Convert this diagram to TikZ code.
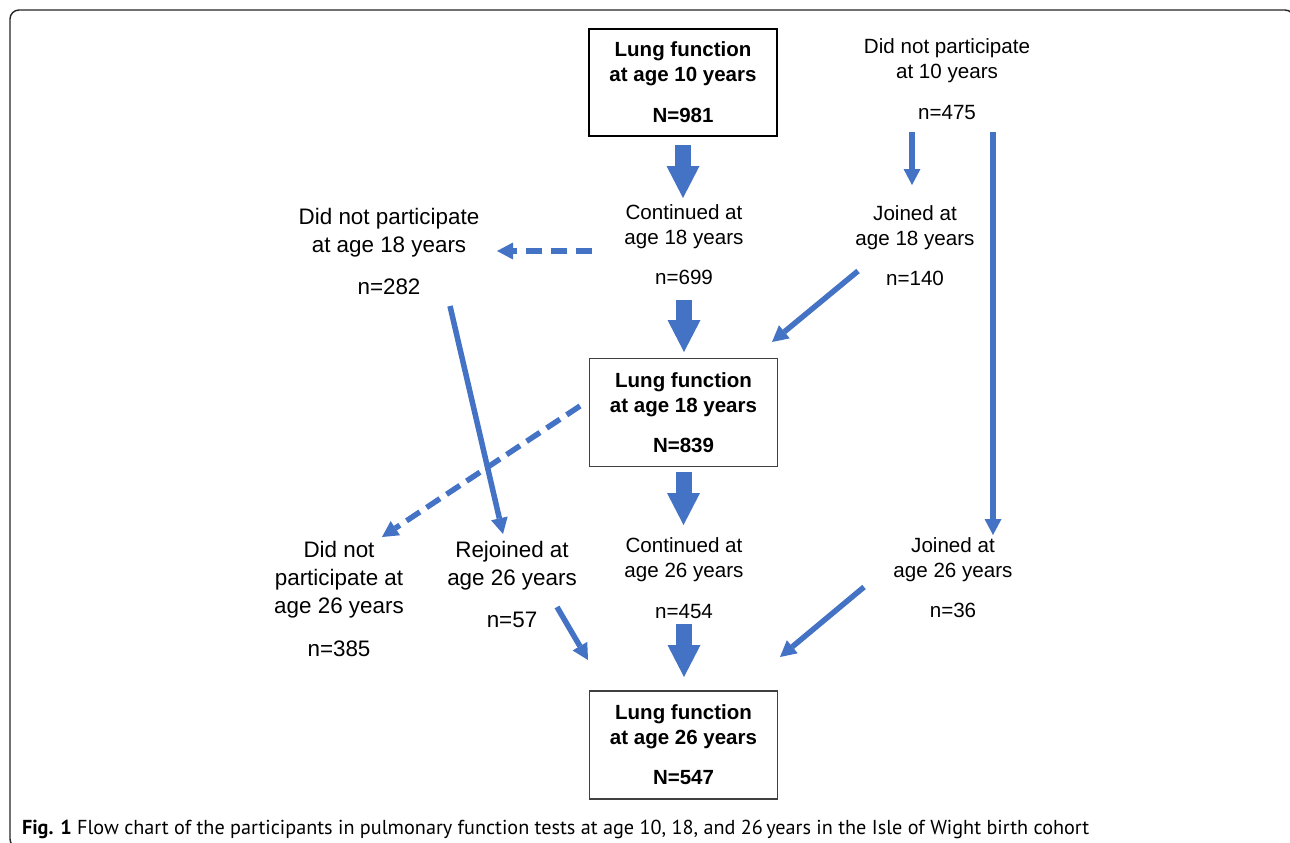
\documentclass[tikz,border=0pt]{standalone}
\usepackage{fontspec}
\setmainfont{Liberation Sans}
\newfontfamily\capfont{PT Sans}
\usetikzlibrary{arrows.meta}
\definecolor{flowblue}{RGB}{68,114,196}
\begin{document}
\begin{tikzpicture}[x=1pt,y=-1pt,
  every node/.style={inner sep=0pt, outer sep=0pt},
  normtxt/.style={align=center, anchor=north, font=\fontsize{20.6}{25}\selectfont},
  bigtxt/.style={align=center, anchor=north, font=\fontsize{22.4}{28.2}\selectfont},
  boxthick/.style={draw=black, line width=2.6pt, minimum width=188pt, minimum height=107pt, align=center, font=\fontsize{20.5}{25}\selectfont\bfseries},
  boxthin/.style={draw=black!75, line width=1.3pt, minimum width=188pt, minimum height=108pt, align=center, font=\fontsize{20.5}{25}\selectfont\bfseries},
  bigarrow/.style={draw=flowblue, line width=16pt, -{Triangle[width=33pt,length=32pt,line width=0pt]}},
  thinarrow/.style={draw=flowblue, line width=5.5pt, -{Triangle[width=17pt,length=16pt,line width=0pt]}},
  dasharrow/.style={thinarrow, dash pattern=on 16pt off 9pt},
]
\useasboundingbox (0,0) rectangle (1290,843);
\fill[white] (0,0) rectangle (1290,843);
\clip (0,0) rectangle (1290,843);
% frame
\draw[line width=1.4pt, black!85, rounded corners=9pt] (10,10) rectangle (1294,848);

% boxes
\node[boxthick] (box1) at (683,82.5) {Lung function\\at age 10 years\\[16pt]N=981};
\node[boxthin] (box2) at (683.5,412.5) {Lung function\\at age 18 years\\[15pt]N=839};
\node[boxthin] (box3) at (683.5,745) {Lung function\\at age 26 years\\[15pt]N=547};

% labels
\node[normtxt] (dnp10) at (947,38.5) {Did not participate\\at 10 years\\[16pt]n=475};
\node[normtxt] (cont18) at (684,204.5) {Continued at\\age 18 years\\[15pt]n=699};
\node[normtxt] (join18) at (915,205.5) {Joined at\\age 18 years\\[15pt]n=140};
\node[bigtxt] (dnp18) at (389,208.5) {Did not participate\\at age 18 years\\[13.5pt]n=282};
\node[bigtxt] (dnp26) at (339,540.8) {Did not\\participate at\\age 26 years\\[15pt]n=385};
\node[bigtxt] (rej26) at (512,540.8) {Rejoined at\\age 26 years\\[14pt]n=57};
\node[normtxt] (cont26) at (684,537.5) {Continued at\\age 26 years\\[16pt]n=454};
\node[normtxt] (join26) at (953,537.5) {Joined at\\age 26 years\\[15pt]n=36};

% caption
\node[anchor=base west, font=\capfont\fontsize{20.2}{22}\selectfont] (cap) at (22,834)
  {\textbf{Fig. 1} Flow chart of the participants in pulmonary function tests at age 10, 18, and 26\,years in the Isle of Wight birth cohort};

% free ends of the slanted connectors
\coordinate (j18out) at (858,271);
\coordinate (box2in) at (772,342);
\coordinate (c18out) at (592,251);
\coordinate (dnp18in) at (497,251);
\coordinate (box2out) at (580,406);
\coordinate (dnp26in) at (382,537);
\coordinate (dnp18out) at (450,306);
\coordinate (rej26in) at (503,534);
\coordinate (rej26out) at (557,607);
\coordinate (box3inl) at (588,660);
\coordinate (j26out) at (864,587);
\coordinate (box3inr) at (780,657);

% block arrows
\draw[bigarrow, shorten <=9pt, shorten >=6.5pt] (box1.south) -- (box1.south |- cont18.north);
\draw[bigarrow, shorten <=15.6pt, shorten >=6.5pt] (cont18.south) -- (cont18.south |- box2.north);
\draw[bigarrow, shorten <=5.5pt, shorten >=12.5pt] (box2.south) -- (box2.south |- cont26.north);
\draw[bigarrow, shorten <=5.6pt, shorten >=14pt] (cont26.south) -- (cont26.south |- box3.north);

% thin arrows
\draw[thinarrow, shorten <=12.6pt, shorten >=20.5pt] ([xshift=-35pt]dnp10.south) -- ([xshift=-3pt]join18.north);
\draw[thinarrow, shorten <=12.6pt, shorten >=2.5pt] ([xshift=46pt]dnp10.south) -- ([xshift=40pt]join26.north);
\draw[thinarrow] (j18out) -- (box2in);
\draw[dasharrow] (c18out) -- (dnp18in);
\draw[thinarrow, dash pattern=on 16pt off 8pt] (box2out) -- (dnp26in);
\draw[thinarrow] (dnp18out) -- (rej26in);
\draw[thinarrow] (rej26out) -- (box3inl);
\draw[thinarrow] (j26out) -- (box3inr);
\end{tikzpicture}
\end{document}
